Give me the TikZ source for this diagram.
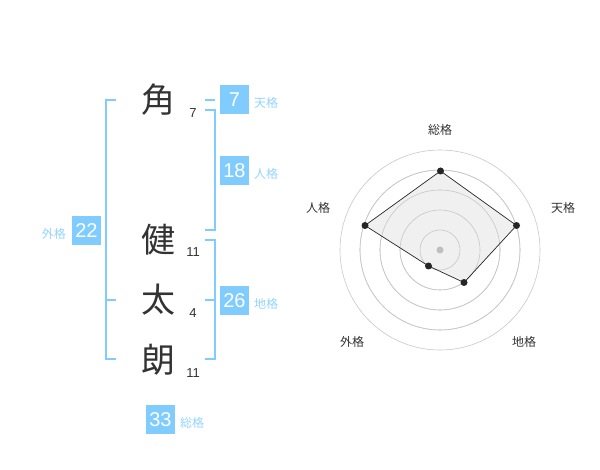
\documentclass[tikz,border=0pt]{standalone}
\usepackage{fontspec}
\setmainfont{Liberation Sans}
\newfontfamily\cjk{Noto Sans CJK JP}
\begin{document}
\begin{tikzpicture}[x=1pt,y=-1pt,
  kanji/.style={font=\cjk\fontsize{34}{34}\selectfont, text=black!80, inner sep=0pt},
  strokes/.style={font=\fontsize{13}{13}\selectfont, text=black!80, inner sep=0pt},
  numbox/.style={fill=sky, text=white, minimum width=29pt, minimum height=29pt, inner sep=0pt, font=\fontsize{20}{20}\selectfont},
  kaku/.style={text=sky!85, font=\cjk\fontsize{12}{12}\selectfont, inner sep=0pt},
  brk/.style={draw=sky, line width=1.8pt},
  ring/.style={draw=black!22, line width=0.6pt},
  rlabel/.style={text=black!80, font=\cjk\fontsize{12}{12}\selectfont, inner sep=0pt},
  pt/.style={circle, fill=black!85, inner sep=0pt, minimum size=7pt}]
\definecolor{sky}{HTML}{80CCFF}
\useasboundingbox (0,0) rectangle (600,470);
% kanji
\node[kanji] (k1) at (158,100) {角};
\node[kanji] (k2) at (158,240) {健};
\node[kanji] (k3) at (158,300) {太};
\node[kanji] (k4) at (158,360) {朗};
\node[strokes] (s1) at (193,113) {7};
\node[strokes] (s2) at (193,252) {11};
\node[strokes] (s3) at (193,313) {4};
\node[strokes] (s4) at (193,373) {11};
% brackets
\draw[brk] (116,100) -- (106,100) -- (106,359) -- (116,359);
\draw[brk] (106,300) -- (116,300);
\draw[brk] (205,100) -- (215,100);
\draw[brk] (205,110) -- (215,110) -- (215,230) -- (205,230);
\draw[brk] (205,240) -- (215,240) -- (215,359) -- (205,359);
\draw[brk] (205,300) -- (215,300);
% boxes
\node[numbox] (b1) at (234.5,100) {7};
\node[kaku, anchor=west] (l1) at (254,103) {天格};
\node[numbox] (b2) at (234.5,171) {18};
\node[kaku, anchor=west] (l2) at (254,174) {人格};
\node[numbox] (b3) at (86.5,231) {22};
\node[kaku, anchor=east] (l3) at (66,234) {外格};
\node[numbox] (b4) at (234.5,300.5) {26};
\node[kaku, anchor=west] (l4) at (254,304) {地格};
\node[numbox] (b5) at (160.5,419.5) {33};
\node[kaku, anchor=west] (l5) at (180,423) {総格};
% radar
\coordinate (c) at (440,250);
\foreach \r in {20,40,60,80,100} \draw[ring] (c) circle[radius=\r];
\coordinate (p1) at (440.5,171);
\coordinate (p2) at (516.5,225.5);
\coordinate (p3) at (464,282.5);
\coordinate (p4) at (428.5,266);
\coordinate (p5) at (365,225.5);
\fill[black!6] (p1) -- (p2) -- (p3) -- (p4) -- (p5) -- cycle;
\foreach \r in {20,40,60,80} \draw[ring] (c) circle[radius=\r];
\draw[black!85, line width=0.7pt] (p1) -- (p2) -- (p3) -- (p4) -- (p5) -- cycle;
\node[circle, fill=black!25, inner sep=0pt, minimum size=7pt] (cd) at (c) {};
\foreach \i in {1,...,5} \node[pt] (d\i) at (p\i) {};
\node[rlabel] (r1) at (440,130) {総格};
\node[rlabel] (r2) at (563,208) {天格};
\node[rlabel] (r3) at (524,342) {地格};
\node[rlabel] (r4) at (352,342) {外格};
\node[rlabel] (r5) at (318,208) {人格};
\end{tikzpicture}
\end{document}
